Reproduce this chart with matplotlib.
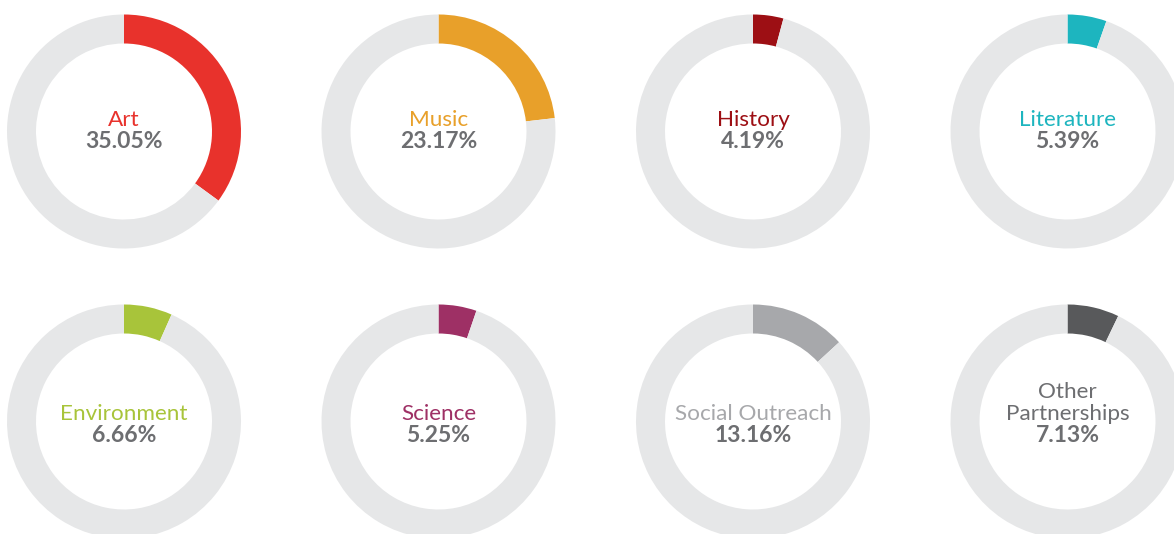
import matplotlib
matplotlib.use("Agg")
import matplotlib.pyplot as plt

# Share of partnerships by category (percent).
labels = ["Art", "Music", "History", "Literature",
          "Environment", "Science", "Social Outreach", "Other\nPartnerships"]
shares = [35.05, 23.17, 4.19, 5.39, 6.66, 5.25, 13.16, 7.13]
colors = ["#e8322c", "#e8a02a", "#9d0f14", "#1db5bf",
          "#a8c43a", "#9e3065", "#a7a8ab", "#58595b"]
label_colors = ["#e8322c", "#e8a02a", "#9d0f14", "#1db5bf",
                "#a8c43a", "#9e3065", "#a7a8ab", "#6d6e71"]

W, H = 1174, 534
plt.rcParams["font.family"] = ["Lato", "DejaVu Sans"]

fig = plt.figure(figsize=(W / 100, H / 100), dpi=100)
ax = fig.add_axes([0, 0, 1, 1])

col_x = [124, 438.5, 753, 1067.5]
row_y = [H - 131.5, H - 421.5]
text_shift = [17, 20.5]   # pct baseline below centre, per row
outer, ring = 117, 29

for i, (lab, val, col, lcol) in enumerate(zip(labels, shares, colors, label_colors)):
    row, c = divmod(i, 4)
    cx, cy = col_x[c], row_y[row]
    ax.pie([val, 100 - val], colors=[col, "#e6e7e8"], startangle=90,
           counterclock=False, center=(cx, cy), radius=outer,
           wedgeprops=dict(width=ring, linewidth=0))
    base = cy - text_shift[row]
    ax.text(cx, base, f"{val:.2f}%", ha="center", va="baseline",
            fontsize=16.5, fontweight="bold", color="#6d6e71")
    ax.text(cx, base + 18, lab, ha="center", va="bottom",
            fontsize=16.2, color=lcol, linespacing=1.12)

ax.set_xlim(0, W)
ax.set_ylim(0, H)
ax.set_aspect("equal")
ax.axis("off")

fig.savefig("out.png", dpi=100, facecolor="white")
